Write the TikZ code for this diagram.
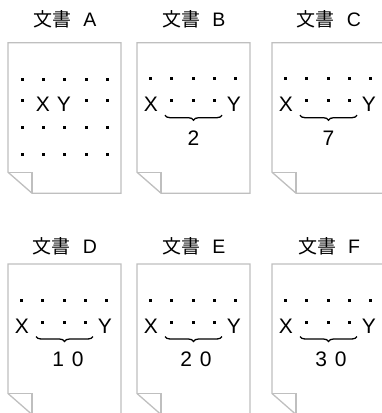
\documentclass[tikz,border=0pt]{standalone}
\usepackage{fontspec}
\setmainfont{Liberation Sans}
\newfontfamily\jpfont{Noto Sans CJK JP}
\usetikzlibrary{decorations.pathreplacing}

\tikzset{
  page/.style={draw=black!25,line width=1.3pt},
  dot/.style={fill=black,inner sep=0pt,minimum size=3pt},
  ttl/.style={font=\fontsize{19.5}{23}\selectfont,inner sep=0pt},
  txt/.style={font=\fontsize{21}{25}\selectfont,inner sep=0pt},
  brc/.style={decorate,decoration={brace,mirror,amplitude=5pt},line width=1.3pt}
}

\begin{document}
\begin{tikzpicture}[x=1pt,y=-1pt]
    \useasboundingbox (0,0) rectangle (381,413);

    % the six sheets with their titles
    \foreach \p/\px/\py/\ty in {A/8/42.7/19.5,B/137/42.7/19.5,C/272/42.7/19.5,
                                D/8/264/246,E/137/264/246,F/272/264/246} {
        \node[ttl] (t\p) at (\px+57,\ty) {{\jpfont\fontsize{19}{23}\selectfont 文書}\hspace{12pt}\p};
        \draw[page] (\px,\py) -- ++(113,0) -- ++(0,150.5) -- ++(-89,0)
            -- ++(-24,-21) -- cycle;
        \draw[page] (\px,\py+129.5) -- ++(24,0) -- ++(0,21);
    }

    % sheet A
    \foreach \r [count=\j] in {79,127,154}
        \foreach \c [count=\i] in {22,43,64,86,107}
            \node[dot] (a\j\i) at (\c,\r) {};
    \node[dot] (ad1) at (22,100) {};
    \node[txt] (ax) at (43,104.5) {X};
    \node[txt] (ay) at (64,104.5) {Y};
    \node[dot] (ad4) at (86,100) {};
    \node[dot] (ad5) at (107,100) {};

    % sheets B to F
    \foreach \p/\px/\py/\v/\vx in {b/137/42.7/2/56.5,c/272/42.7/7/56.5,
            d/8/264/1\hspace{8pt}0/60,e/137/264/2\hspace{8pt}0/59,
            f/272/264/3\hspace{8pt}0/59} {
        \foreach \c [count=\i] in {13,34,56,77,98}
            \node[dot] (\p\i) at (\px+\c,\py+36) {};
        \node[txt] (\p x) at (\px+14,\py+62) {X};
        \node[txt] (\p y) at (\px+97,\py+62) {Y};
        \foreach \c [count=\i] in {34,56,77}
            \node[dot] (\p m\i) at (\px+\c,\py+58) {};
        \coordinate (\p l) at (\px+28,\py+72.5);
        \coordinate (\p r) at (\px+85,\py+72.5);
        \draw[brc] (\p l) -- (\p r);
        \node[txt] (\p n) at (\px+\vx,\py+95.5) {\v};
    }
\end{tikzpicture}
\end{document}
